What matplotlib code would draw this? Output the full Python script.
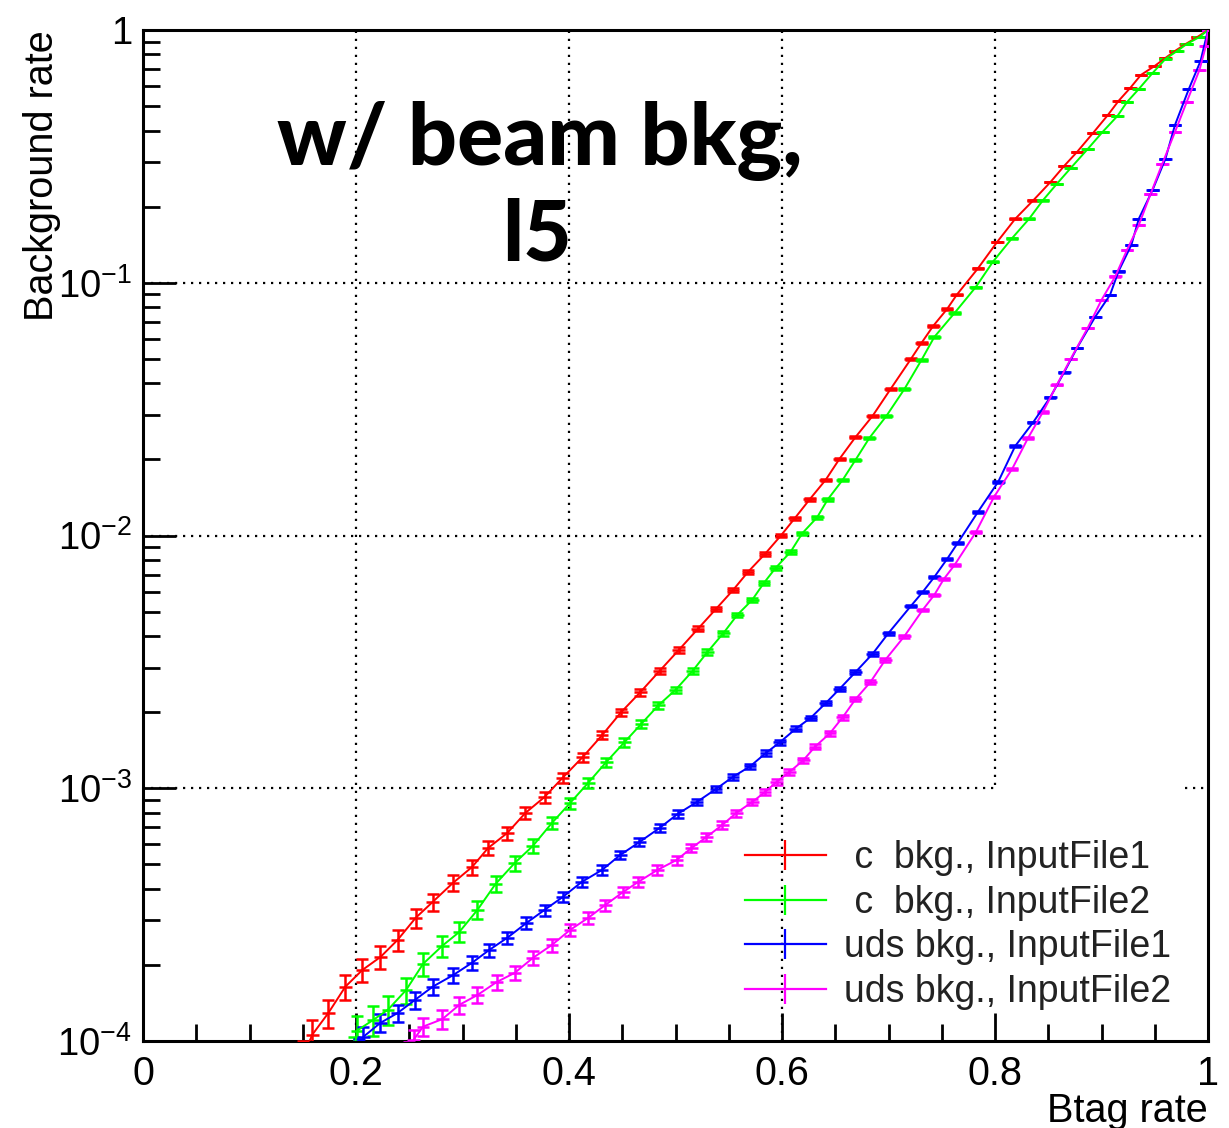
import numpy as np
import matplotlib
matplotlib.use("Agg")
import matplotlib.pyplot as plt
from matplotlib.lines import Line2D
from matplotlib.ticker import FixedLocator, LogLocator, NullFormatter, FuncFormatter

plt.rcParams['font.family'] = ['Liberation Sans', 'DejaVu Sans']
plt.rcParams['mathtext.fontset'] = 'custom'
plt.rcParams['mathtext.rm'] = 'Liberation Sans'
plt.rcParams['mathtext.it'] = 'Liberation Sans:italic'
plt.rcParams['mathtext.bf'] = 'Liberation Sans:bold'

# ---------------- data ----------------
c_file1_x = [0.150, 0.159, 0.174, 0.190, 0.206, 0.223, 0.239, 0.256, 0.272, 0.291, 0.309,
             0.324, 0.342, 0.359, 0.377, 0.394, 0.413, 0.431, 0.449, 0.467, 0.485,
             0.503, 0.521, 0.538, 0.554, 0.568, 0.584, 0.599, 0.612, 0.626, 0.641,
             0.654, 0.669, 0.685, 0.702, 0.721, 0.731, 0.742, 0.755, 0.764, 0.784,
             0.802, 0.819, 0.836, 0.852, 0.865, 0.877, 0.892, 0.906, 0.916, 0.927,
             0.937, 0.950, 0.960, 0.969, 0.979, 0.990, 1.000]
c_file1_y = [8.6e-5, 1.06e-4, 1.29e-4, 1.64e-4, 1.91e-4, 2.15e-4, 2.51e-4, 3.07e-4, 3.55e-4, 4.22e-4, 4.88e-4,
             5.80e-4, 6.65e-4, 7.98e-4, 9.23e-4, 1.10e-3, 1.33e-3, 1.62e-3, 2.00e-3, 2.40e-3, 2.91e-3,
             3.52e-3, 4.27e-3, 5.12e-3, 6.08e-3, 7.17e-3, 8.45e-3, 1.00e-2, 1.17e-2, 1.39e-2, 1.66e-2,
             2.01e-2, 2.45e-2, 2.97e-2, 3.80e-2, 4.99e-2, 5.78e-2, 6.75e-2, 7.87e-2, 8.95e-2, 0.114,
             0.145, 0.179, 0.212, 0.250, 0.290, 0.329, 0.391, 0.461, 0.524, 0.590,
             0.664, 0.721, 0.775, 0.826, 0.880, 0.938, 1.0]

c_file2_x = [0.198, 0.201, 0.216, 0.230, 0.247, 0.263, 0.281, 0.297, 0.314, 0.331, 0.349,
             0.366, 0.384, 0.401, 0.418, 0.435, 0.452, 0.468, 0.484, 0.500, 0.516,
             0.530, 0.545, 0.558, 0.572, 0.583, 0.594, 0.608, 0.619, 0.633, 0.643,
             0.657, 0.669, 0.682, 0.698, 0.715, 0.731, 0.743, 0.762, 0.782, 0.798,
             0.816, 0.832, 0.845, 0.858, 0.871, 0.887, 0.901, 0.915, 0.924, 0.935,
             0.948, 0.960, 0.971, 0.980, 0.992, 1.000]
c_file2_y = [9.0e-5, 1.10e-4, 1.21e-4, 1.33e-4, 1.59e-4, 2.02e-4, 2.38e-4, 2.70e-4, 3.30e-4, 4.18e-4, 5.06e-4,
             5.91e-4, 7.29e-4, 8.74e-4, 1.05e-3, 1.27e-3, 1.52e-3, 1.80e-3, 2.13e-3, 2.45e-3, 2.91e-3,
             3.46e-3, 4.11e-3, 4.85e-3, 5.56e-3, 6.49e-3, 7.44e-3, 8.61e-3, 1.02e-2, 1.18e-2, 1.39e-2,
             1.66e-2, 1.99e-2, 2.43e-2, 2.97e-2, 3.80e-2, 4.95e-2, 6.10e-2, 7.59e-2, 9.62e-2, 0.121,
             0.150, 0.179, 0.212, 0.246, 0.284, 0.338, 0.395, 0.457, 0.519, 0.584,
             0.676, 0.768, 0.826, 0.880, 0.938, 1.0]

uds_file1_x = [0.203, 0.207, 0.223, 0.239, 0.255, 0.272, 0.291, 0.309, 0.325, 0.342, 0.360,
               0.377, 0.394, 0.412, 0.431, 0.448, 0.466, 0.485, 0.502, 0.520, 0.538,
               0.554, 0.570, 0.585, 0.598, 0.613, 0.627, 0.641, 0.654, 0.669, 0.685,
               0.700, 0.721, 0.732, 0.743, 0.755, 0.765, 0.784, 0.803, 0.819, 0.836,
               0.852, 0.865, 0.877, 0.894, 0.908, 0.916, 0.928, 0.935, 0.948, 0.960,
               0.969, 0.982, 0.993, 1.000]
uds_file1_y = [9.3e-5, 1.04e-4, 1.18e-4, 1.29e-4, 1.45e-4, 1.64e-4, 1.82e-4, 2.04e-4, 2.29e-4, 2.56e-4, 2.93e-4,
               3.30e-4, 3.71e-4, 4.26e-4, 4.75e-4, 5.44e-4, 6.12e-4, 6.96e-4, 7.91e-4, 8.82e-4, 9.93e-4,
               1.11e-3, 1.22e-3, 1.38e-3, 1.52e-3, 1.72e-3, 1.90e-3, 2.17e-3, 2.47e-3, 2.88e-3, 3.40e-3,
               4.11e-3, 5.26e-3, 5.97e-3, 6.85e-3, 8.07e-3, 9.34e-3, 1.24e-2, 1.63e-2, 2.26e-2, 2.81e-2,
               3.53e-2, 4.43e-2, 5.52e-2, 7.32e-2, 8.95e-2, 0.111, 0.141, 0.179, 0.233, 0.309,
               0.421, 0.584, 0.754, 1.0]

uds_file2_x = [0.250, 0.254, 0.263, 0.281, 0.297, 0.314, 0.332, 0.349, 0.366, 0.384, 0.401,
               0.418, 0.434, 0.451, 0.465, 0.483, 0.501, 0.515, 0.529, 0.544, 0.557,
               0.572, 0.584, 0.595, 0.607, 0.620, 0.631, 0.645, 0.657, 0.669, 0.683,
               0.697, 0.715, 0.732, 0.743, 0.752, 0.762, 0.782, 0.799, 0.816, 0.831,
               0.845, 0.858, 0.871, 0.887, 0.900, 0.913, 0.924, 0.935, 0.946, 0.957,
               0.969, 0.980, 0.992, 0.998, 1.000]
uds_file2_y = [9.0e-5, 1.01e-4, 1.14e-4, 1.22e-4, 1.39e-4, 1.52e-4, 1.71e-4, 1.86e-4, 2.13e-4, 2.40e-4, 2.75e-4,
               3.07e-4, 3.45e-4, 3.89e-4, 4.26e-4, 4.75e-4, 5.20e-4, 5.80e-4, 6.41e-4, 7.16e-4, 7.98e-4,
               8.82e-4, 9.66e-4, 1.06e-3, 1.16e-3, 1.29e-3, 1.46e-3, 1.65e-3, 1.91e-3, 2.25e-3, 2.63e-3,
               3.22e-3, 4.00e-3, 5.07e-3, 5.82e-3, 6.73e-3, 7.64e-3, 1.03e-2, 1.42e-2, 1.83e-2, 2.43e-2,
               3.08e-2, 3.94e-2, 4.99e-2, 6.62e-2, 8.55e-2, 0.106, 0.135, 0.169, 0.224, 0.295,
               0.395, 0.519, 0.695, 0.864, 1.0]

# total event counts behind the rates (sets size of statistical error bars)
n_events = [4.5e5, 4.5e5, 1.2e6, 1.2e6]

labels = [" c  bkg., InputFile1", " c  bkg., InputFile2",
          "uds bkg., InputFile1", "uds bkg., InputFile2"]
colors = ["#ff0000", "#00ff00", "#0000ff", "#ff00ff"]

x_tick_vals = [0, 0.2, 0.4, 0.6, 0.8, 1.0]
x_tick_labels = ["0", "0.2", "0.4", "0.6", "0.8", "1"]

# ---------------- figure ----------------
W, H = 1229, 1128
fig = plt.figure(figsize=(W / 100, H / 100), dpi=100)
L, R, T, B = 143, 1208, 30, 1041
ax = fig.add_axes([L / W, 1 - B / H, (R - L) / W, (B - T) / H])
ax.set_yscale('log')
ax.set_xlim(0, 1)
ax.set_ylim(1e-4, 1)

# dotted grid (drawn manually, partly hidden by legend box as in reference)
grid_kw = dict(color='black', lw=1.6, linestyle=(0, (1, 2.6)), zorder=0.6)
leg_box_x0, leg_box_x1, leg_box_ytop = 0.8, 0.978, 1.03e-3
for gx in [0.2, 0.4, 0.6]:
    ax.vlines(gx, 1e-4, 1, **grid_kw)
ax.vlines(0.8, leg_box_ytop, 1, **grid_kw)
for gy in [1e-1, 1e-2]:
    ax.hlines(gy, 0, 1, **grid_kw)
ax.hlines(1e-3, 0, leg_box_x0, **grid_kw)
ax.hlines(1e-3, leg_box_x1, 1, **grid_kw)

series = [(c_file1_x, c_file1_y), (c_file2_x, c_file2_y),
          (uds_file1_x, uds_file1_y), (uds_file2_x, uds_file2_y)]
for (xs, ys), col, n in zip(series, colors, n_events):
    xs = np.array(xs)
    ys = np.array(ys)
    err = np.sqrt(ys * (1 - ys) / n)
    ax.errorbar(xs, ys, yerr=err, fmt='-', color=col, lw=1.4, elinewidth=1.8,
                capsize=4.5, capthick=1.8, zorder=3)
    ax.errorbar(xs, ys, xerr=0.006, fmt='none', ecolor=col, elinewidth=1.8,
                capsize=0, zorder=3)

# axes styling
for s in ax.spines.values():
    s.set_linewidth(2.2)
ax.xaxis.set_major_locator(FixedLocator(x_tick_vals))
ax.set_xticklabels(x_tick_labels)
ax.xaxis.set_minor_locator(FixedLocator([v for v in np.arange(0.05, 1.0, 0.05)
                                         if abs(v / 0.2 - round(v / 0.2)) > 1e-6]))
ax.yaxis.set_major_locator(LogLocator(base=10, numticks=10))
ax.yaxis.set_minor_locator(LogLocator(base=10, subs=np.arange(2, 10), numticks=50))
ax.yaxis.set_minor_formatter(NullFormatter())


def yfmt(v, pos):
    e = int(round(np.log10(v)))
    if e == 0:
        return "1"
    return r"$10^{%d}$" % e


ax.yaxis.set_major_formatter(FuncFormatter(yfmt))
ax.tick_params(axis='both', which='both', direction='in', top=False, right=False,
               width=2.0, labelsize=28.5, colors='black')
ax.tick_params(axis='x', which='major', length=20, pad=10)
ax.tick_params(axis='x', which='minor', length=12)
ax.tick_params(axis='y', which='major', length=24, pad=8, labelsize=27.5)
ax.tick_params(axis='y', which='minor', length=12)

ax.set_xlabel("Btag rate", fontsize=28.5, loc='right')
ax.xaxis.set_label_coords(1.0, -0.050)
ax.set_ylabel("Background rate", fontsize=28.5, loc='top')
ax.yaxis.set_label_coords(-0.077, 1.0)

# big annotation
ax.text(0.3728, 0.8665, "w/ beam bkg,", transform=ax.transAxes, ha='center',
        va='baseline', fontsize=62, fontweight='black', family=['Lato', 'DejaVu Sans'])
ax.text(0.370, 0.7725, "l5", transform=ax.transAxes, ha='center',
        va='baseline', fontsize=60, fontweight='black', family=['Lato', 'DejaVu Sans'])

# legend
handles = [Line2D([], [], color=c, lw=1.6, marker='|', markersize=22, markeredgewidth=1.6)
           for c in colors]
leg = ax.legend(handles, labels, loc='upper left', bbox_to_anchor=(0.5653, 0.1988),
                frameon=False, fontsize=27, handlelength=2.15, handletextpad=0.48,
                labelspacing=0.23, borderpad=0, borderaxespad=0)
for t in leg.get_texts():
    t.set_color('#222222')

fig.savefig("out.png", dpi=100, facecolor='white')
